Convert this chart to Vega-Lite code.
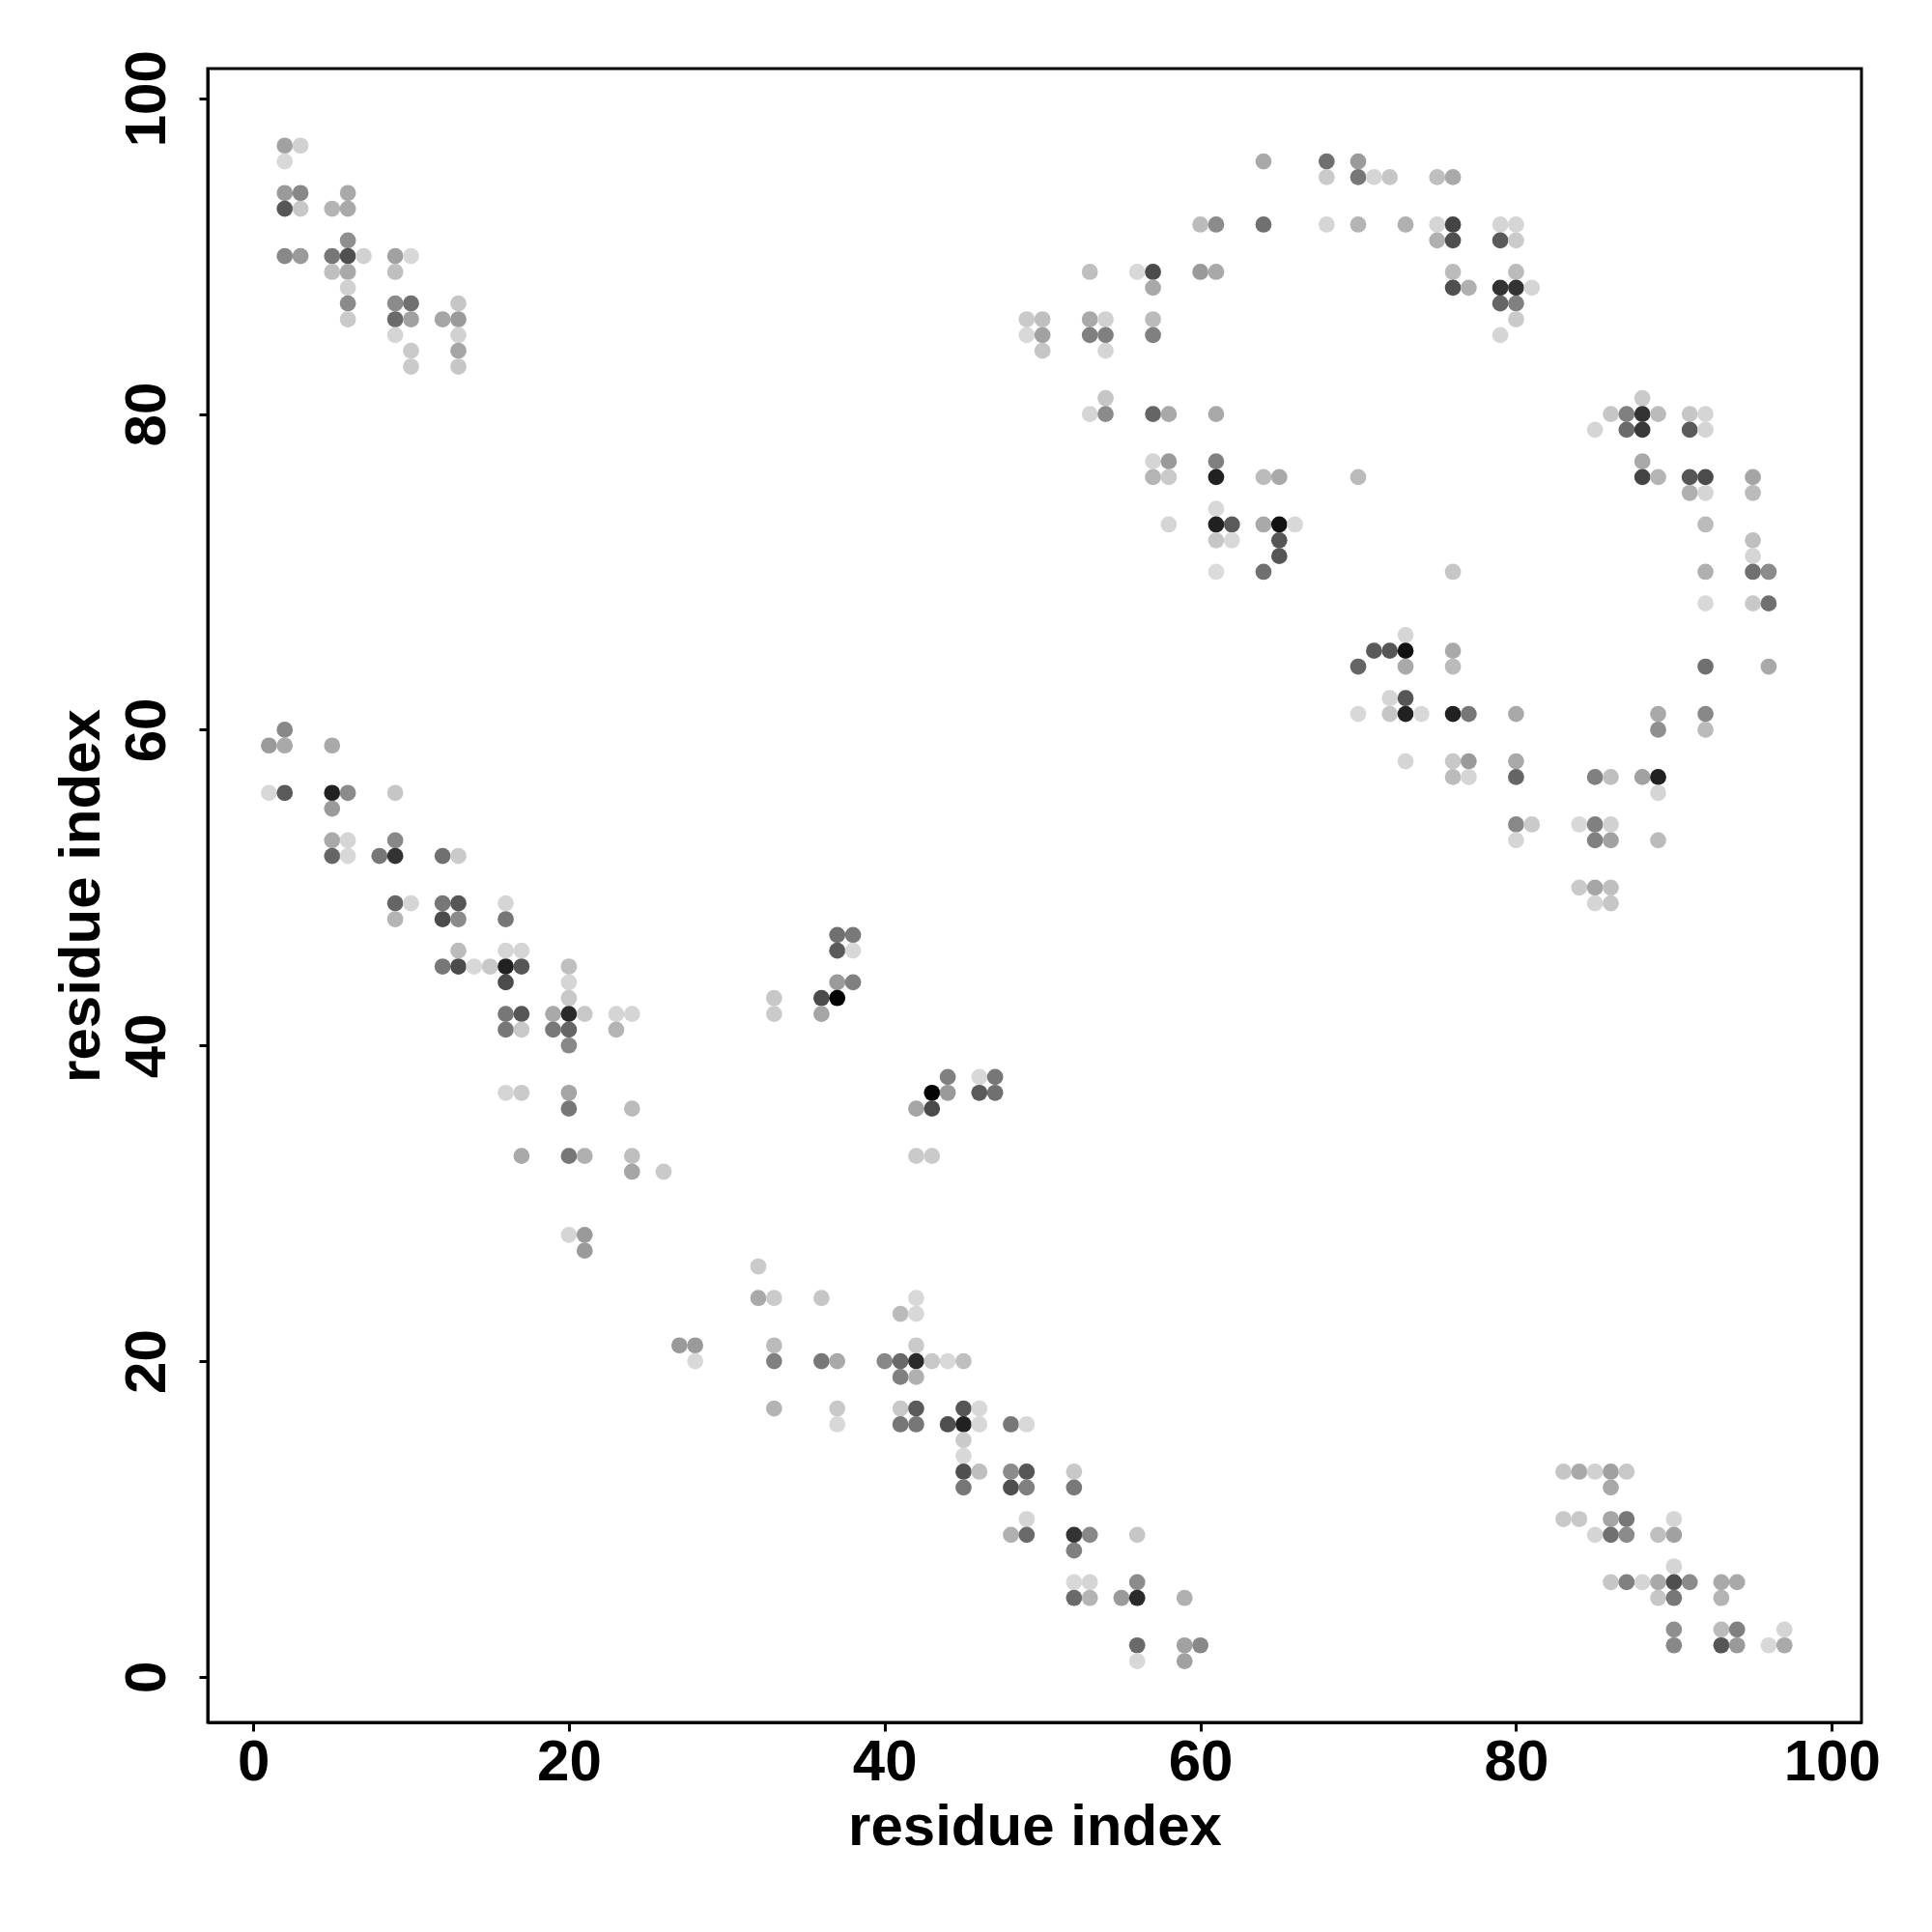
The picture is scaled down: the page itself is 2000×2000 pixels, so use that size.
{
  "$schema": "https://vega.github.io/schema/vega-lite/v6.json",
  "width": 1712,
  "height": 1712,
  "autosize": {"type": "none"},
  "padding": {"left": 215, "top": 71, "right": 73, "bottom": 217},
  "background": "white",
  "config": {
    "view": {"stroke": "black", "strokeWidth": 3},
    "font": "Liberation Sans"
  },
  "data": {"values": [
    {"i":2,"j":97,"p":0.27},{"i":3,"j":97,"p":0.05},{"i":2,"j":96,"p":0.02},{"i":2,"j":94,"p":0.3},{"i":3,"j":94,"p":0.38},{"i":2,"j":93,"p":0.61},{"i":3,"j":93,"p":0.09},{"i":5,"j":93,"p":0.18},{"i":6,"j":94,"p":0.23},{"i":6,"j":93,"p":0.23},{"i":2,"j":90,"p":0.38},{"i":3,"j":90,"p":0.3},{"i":6,"j":91,"p":0.35},{"i":5,"j":90,"p":0.46},{"i":6,"j":90,"p":0.64},{"i":7,"j":90,"p":0.05},{"i":5,"j":89,"p":0.13},{"i":6,"j":89,"p":0.23},{"i":6,"j":88,"p":0.05},{"i":6,"j":87,"p":0.37},{"i":6,"j":86,"p":0.08},{"i":9,"j":90,"p":0.27},{"i":10,"j":90,"p":0.02},{"i":9,"j":89,"p":0.13},{"i":9,"j":87,"p":0.37},{"i":10,"j":87,"p":0.49},{"i":9,"j":86,"p":0.52},{"i":10,"j":86,"p":0.27},{"i":9,"j":85,"p":0.03},{"i":10,"j":84,"p":0.08},{"i":10,"j":83,"p":0.08},{"i":13,"j":87,"p":0.1},{"i":12,"j":86,"p":0.25},{"i":13,"j":86,"p":0.3},{"i":13,"j":85,"p":0.05},{"i":13,"j":84,"p":0.25},{"i":13,"j":83,"p":0.1},
    {"i":2,"j":60,"p":0.38},{"i":1,"j":59,"p":0.3},{"i":2,"j":59,"p":0.23},{"i":5,"j":59,"p":0.23},{"i":1,"j":56,"p":0.02},{"i":2,"j":56,"p":0.59},{"i":5,"j":56,"p":0.85},{"i":6,"j":56,"p":0.37},{"i":5,"j":55,"p":0.3},{"i":9,"j":56,"p":0.1},{"i":5,"j":53,"p":0.23},{"i":6,"j":53,"p":0.03},{"i":5,"j":52,"p":0.54},{"i":6,"j":52,"p":0.02},{"i":8,"j":52,"p":0.46},{"i":9,"j":53,"p":0.38},{"i":9,"j":52,"p":0.77},{"i":12,"j":52,"p":0.49},{"i":13,"j":52,"p":0.08},{"i":9,"j":49,"p":0.54},{"i":10,"j":49,"p":0.03},{"i":9,"j":48,"p":0.18},{"i":12,"j":49,"p":0.46},{"i":13,"j":49,"p":0.61},{"i":12,"j":48,"p":0.66},{"i":13,"j":48,"p":0.37},{"i":16,"j":49,"p":0.03},{"i":16,"j":48,"p":0.46},{"i":13,"j":46,"p":0.15},{"i":12,"j":45,"p":0.46},{"i":13,"j":45,"p":0.66},{"i":14,"j":45,"p":0.02},{"i":15,"j":45,"p":0.09},{"i":16,"j":46,"p":0.03},{"i":17,"j":46,"p":0.03},{"i":16,"j":45,"p":0.85},{"i":17,"j":45,"p":0.61},{"i":16,"j":44,"p":0.66},
    {"i":20,"j":45,"p":0.13},{"i":20,"j":44,"p":0.03},{"i":20,"j":43,"p":0.09},{"i":16,"j":42,"p":0.46},{"i":17,"j":42,"p":0.61},{"i":16,"j":41,"p":0.46},{"i":17,"j":41,"p":0.09},{"i":19,"j":42,"p":0.23},{"i":20,"j":42,"p":0.81},{"i":21,"j":42,"p":0.09},{"i":19,"j":41,"p":0.45},{"i":20,"j":41,"p":0.54},{"i":20,"j":40,"p":0.38},{"i":23,"j":42,"p":0.03},{"i":24,"j":42,"p":0.03},{"i":23,"j":41,"p":0.18},{"i":16,"j":37,"p":0.03},{"i":17,"j":37,"p":0.08},{"i":20,"j":37,"p":0.25},{"i":20,"j":36,"p":0.46},{"i":24,"j":36,"p":0.15},{"i":17,"j":33,"p":0.23},{"i":20,"j":33,"p":0.46},{"i":21,"j":33,"p":0.2},{"i":24,"j":33,"p":0.13},{"i":24,"j":32,"p":0.25},{"i":26,"j":32,"p":0.08},{"i":20,"j":28,"p":0.03},{"i":21,"j":28,"p":0.3},{"i":21,"j":27,"p":0.3},
    {"i":37,"j":47,"p":0.49},{"i":38,"j":47,"p":0.45},{"i":37,"j":46,"p":0.59},{"i":38,"j":46,"p":0.02},{"i":37,"j":44,"p":0.3},{"i":38,"j":44,"p":0.42},{"i":36,"j":43,"p":0.66},{"i":37,"j":43,"p":0.98},{"i":36,"j":42,"p":0.25},{"i":33,"j":43,"p":0.09},{"i":33,"j":42,"p":0.08},{"i":44,"j":38,"p":0.42},{"i":43,"j":37,"p":0.98},{"i":44,"j":37,"p":0.3},{"i":42,"j":36,"p":0.25},{"i":43,"j":36,"p":0.66},{"i":46,"j":38,"p":0.02},{"i":47,"j":38,"p":0.46},{"i":46,"j":37,"p":0.59},{"i":47,"j":37,"p":0.49},{"i":42,"j":33,"p":0.08},{"i":43,"j":33,"p":0.08},
    {"i":32,"j":26,"p":0.08},{"i":32,"j":24,"p":0.23},{"i":33,"j":24,"p":0.08},{"i":36,"j":24,"p":0.1},{"i":42,"j":24,"p":0.02},{"i":41,"j":23,"p":0.15},{"i":42,"j":23,"p":0.02},{"i":27,"j":21,"p":0.3},{"i":28,"j":21,"p":0.3},{"i":28,"j":20,"p":0.02},{"i":33,"j":21,"p":0.15},{"i":33,"j":20,"p":0.42},{"i":36,"j":20,"p":0.46},{"i":37,"j":20,"p":0.23},{"i":42,"j":21,"p":0.08},{"i":40,"j":20,"p":0.38},{"i":41,"j":20,"p":0.52},{"i":42,"j":20,"p":0.81},{"i":43,"j":20,"p":0.09},{"i":44,"j":20,"p":0.02},{"i":45,"j":20,"p":0.13},{"i":41,"j":19,"p":0.42},{"i":42,"j":19,"p":0.2},{"i":33,"j":17,"p":0.18},{"i":37,"j":17,"p":0.09},{"i":37,"j":16,"p":0.02},{"i":41,"j":17,"p":0.09},{"i":42,"j":17,"p":0.59},{"i":41,"j":16,"p":0.46},{"i":42,"j":16,"p":0.46},{"i":45,"j":17,"p":0.61},{"i":46,"j":17,"p":0.02},{"i":44,"j":16,"p":0.64},{"i":45,"j":16,"p":0.85},{"i":46,"j":16,"p":0.02},{"i":45,"j":15,"p":0.08},{"i":45,"j":14,"p":0.02},{"i":45,"j":13,"p":0.64},{"i":46,"j":13,"p":0.13},{"i":45,"j":12,"p":0.46},{"i":48,"j":16,"p":0.46},{"i":49,"j":16,"p":0.02},{"i":48,"j":13,"p":0.37},{"i":49,"j":13,"p":0.61},{"i":48,"j":12,"p":0.64},{"i":49,"j":12,"p":0.42},{"i":49,"j":10,"p":0.03},
    {"i":52,"j":13,"p":0.09},{"i":52,"j":12,"p":0.45},{"i":48,"j":9,"p":0.2},{"i":49,"j":9,"p":0.52},{"i":52,"j":9,"p":0.77},{"i":53,"j":9,"p":0.38},{"i":52,"j":8,"p":0.42},{"i":56,"j":9,"p":0.1},{"i":52,"j":6,"p":0.02},{"i":53,"j":6,"p":0.03},{"i":52,"j":5,"p":0.52},{"i":53,"j":5,"p":0.18},{"i":56,"j":6,"p":0.37},{"i":55,"j":5,"p":0.3},{"i":56,"j":5,"p":0.81},{"i":59,"j":5,"p":0.2},{"i":56,"j":2,"p":0.52},{"i":56,"j":1,"p":0.02},{"i":59,"j":2,"p":0.27},{"i":60,"j":2,"p":0.38},{"i":59,"j":1,"p":0.27},
    {"i":64,"j":96,"p":0.23},{"i":68,"j":96,"p":0.49},{"i":68,"j":95,"p":0.08},{"i":70,"j":96,"p":0.3},{"i":70,"j":95,"p":0.46},{"i":71,"j":95,"p":0.03},{"i":60,"j":92,"p":0.15},{"i":61,"j":92,"p":0.37},{"i":64,"j":92,"p":0.49},{"i":68,"j":92,"p":0.03},{"i":70,"j":92,"p":0.18},{"i":53,"j":89,"p":0.13},{"i":56,"j":89,"p":0.02},{"i":57,"j":89,"p":0.66},{"i":57,"j":88,"p":0.23},{"i":60,"j":89,"p":0.3},{"i":61,"j":89,"p":0.23},{"i":49,"j":86,"p":0.08},{"i":50,"j":86,"p":0.13},{"i":49,"j":85,"p":0.02},{"i":50,"j":85,"p":0.27},{"i":50,"j":84,"p":0.1},{"i":53,"j":86,"p":0.23},{"i":54,"j":86,"p":0.05},{"i":53,"j":85,"p":0.42},{"i":54,"j":85,"p":0.42},{"i":54,"j":84,"p":0.03},{"i":57,"j":86,"p":0.15},{"i":57,"j":85,"p":0.42},{"i":54,"j":81,"p":0.1},{"i":53,"j":80,"p":0.03},{"i":54,"j":80,"p":0.37},{"i":57,"j":80,"p":0.54},{"i":58,"j":80,"p":0.23},{"i":61,"j":80,"p":0.23},{"i":57,"j":77,"p":0.03},{"i":58,"j":77,"p":0.3},{"i":57,"j":76,"p":0.18},{"i":58,"j":76,"p":0.08},{"i":61,"j":77,"p":0.42},{"i":61,"j":76,"p":0.85},{"i":64,"j":76,"p":0.15},{"i":65,"j":76,"p":0.23},{"i":70,"j":76,"p":0.15},{"i":58,"j":73,"p":0.03},{"i":61,"j":74,"p":0.02},{"i":61,"j":73,"p":0.85},{"i":62,"j":73,"p":0.59},{"i":61,"j":72,"p":0.1},{"i":62,"j":72,"p":0.02},{"i":64,"j":73,"p":0.23},{"i":65,"j":73,"p":0.92},{"i":66,"j":73,"p":0.02},{"i":65,"j":72,"p":0.61},{"i":65,"j":71,"p":0.61},{"i":64,"j":70,"p":0.49},{"i":61,"j":70,"p":0.0},
    {"i":72,"j":95,"p":0.1},{"i":75,"j":95,"p":0.13},{"i":76,"j":95,"p":0.23},{"i":73,"j":92,"p":0.2},{"i":75,"j":92,"p":0.03},{"i":76,"j":92,"p":0.69},{"i":75,"j":91,"p":0.2},{"i":76,"j":91,"p":0.64},{"i":79,"j":92,"p":0.03},{"i":80,"j":92,"p":0.03},{"i":79,"j":91,"p":0.59},{"i":80,"j":91,"p":0.08},{"i":76,"j":89,"p":0.15},{"i":76,"j":88,"p":0.64},{"i":77,"j":88,"p":0.2},{"i":80,"j":89,"p":0.15},{"i":79,"j":88,"p":0.77},{"i":80,"j":88,"p":0.77},{"i":81,"j":88,"p":0.03},{"i":79,"j":87,"p":0.54},{"i":80,"j":87,"p":0.42},{"i":80,"j":86,"p":0.08},{"i":79,"j":85,"p":0.03},{"i":76,"j":70,"p":0.1},
    {"i":73,"j":66,"p":0.03},{"i":71,"j":65,"p":0.59},{"i":72,"j":65,"p":0.61},{"i":73,"j":65,"p":0.92},{"i":73,"j":64,"p":0.23},{"i":70,"j":64,"p":0.54},{"i":76,"j":65,"p":0.23},{"i":76,"j":64,"p":0.15},{"i":72,"j":62,"p":0.03},{"i":73,"j":62,"p":0.61},{"i":70,"j":61,"p":0.02},{"i":72,"j":61,"p":0.1},{"i":73,"j":61,"p":0.85},{"i":74,"j":61,"p":0.02},{"i":76,"j":61,"p":0.85},{"i":77,"j":61,"p":0.46},{"i":80,"j":61,"p":0.23},{"i":73,"j":58,"p":0.03},{"i":76,"j":58,"p":0.09},{"i":77,"j":58,"p":0.3},{"i":76,"j":57,"p":0.15},{"i":77,"j":57,"p":0.03},{"i":80,"j":58,"p":0.23},{"i":80,"j":57,"p":0.54},{"i":85,"j":57,"p":0.42},{"i":86,"j":57,"p":0.13},{"i":88,"j":57,"p":0.27},{"i":89,"j":57,"p":0.85},{"i":80,"j":54,"p":0.38},{"i":81,"j":54,"p":0.08},{"i":80,"j":53,"p":0.03},{"i":84,"j":54,"p":0.02},{"i":85,"j":54,"p":0.42},{"i":86,"j":54,"p":0.05},{"i":85,"j":53,"p":0.42},{"i":86,"j":53,"p":0.27},{"i":84,"j":50,"p":0.08},{"i":85,"j":50,"p":0.25},{"i":86,"j":50,"p":0.13},{"i":85,"j":49,"p":0.03},{"i":86,"j":49,"p":0.1},{"i":89,"j":56,"p":0.03},{"i":89,"j":53,"p":0.15},
    {"i":88,"j":81,"p":0.08},{"i":86,"j":80,"p":0.1},{"i":87,"j":80,"p":0.42},{"i":88,"j":80,"p":0.77},{"i":89,"j":80,"p":0.15},{"i":85,"j":79,"p":0.03},{"i":87,"j":79,"p":0.52},{"i":88,"j":79,"p":0.74},{"i":91,"j":80,"p":0.1},{"i":92,"j":80,"p":0.03},{"i":91,"j":79,"p":0.59},{"i":92,"j":79,"p":0.03},{"i":88,"j":77,"p":0.23},{"i":88,"j":76,"p":0.69},{"i":89,"j":76,"p":0.18},{"i":91,"j":76,"p":0.61},{"i":92,"j":76,"p":0.66},{"i":91,"j":75,"p":0.2},{"i":92,"j":75,"p":0.03},{"i":95,"j":76,"p":0.25},{"i":95,"j":75,"p":0.15},{"i":92,"j":73,"p":0.15},{"i":95,"j":72,"p":0.13},{"i":95,"j":71,"p":0.03},{"i":95,"j":70,"p":0.49},{"i":96,"j":70,"p":0.37},{"i":92,"j":70,"p":0.2},{"i":92,"j":68,"p":0.02},{"i":95,"j":68,"p":0.09},{"i":96,"j":68,"p":0.49},{"i":92,"j":64,"p":0.49},{"i":96,"j":64,"p":0.23},{"i":89,"j":61,"p":0.23},{"i":89,"j":60,"p":0.35},{"i":92,"j":61,"p":0.38},{"i":92,"j":60,"p":0.15},
    {"i":83,"j":13,"p":0.1},{"i":84,"j":13,"p":0.23},{"i":85,"j":13,"p":0.05},{"i":86,"j":13,"p":0.27},{"i":87,"j":13,"p":0.09},{"i":86,"j":12,"p":0.23},{"i":83,"j":10,"p":0.09},{"i":84,"j":10,"p":0.09},{"i":85,"j":9,"p":0.03},{"i":86,"j":10,"p":0.25},{"i":87,"j":10,"p":0.46},{"i":86,"j":9,"p":0.49},{"i":87,"j":9,"p":0.37},{"i":90,"j":10,"p":0.03},{"i":89,"j":9,"p":0.13},{"i":90,"j":9,"p":0.27},{"i":90,"j":7,"p":0.03},{"i":86,"j":6,"p":0.1},{"i":87,"j":6,"p":0.42},{"i":88,"j":6,"p":0.03},{"i":89,"j":6,"p":0.23},{"i":90,"j":6,"p":0.64},{"i":91,"j":6,"p":0.37},{"i":89,"j":5,"p":0.1},{"i":90,"j":5,"p":0.46},{"i":93,"j":6,"p":0.23},{"i":94,"j":6,"p":0.23},{"i":93,"j":5,"p":0.18},{"i":90,"j":3,"p":0.35},{"i":90,"j":2,"p":0.38},{"i":93,"j":3,"p":0.15},{"i":94,"j":3,"p":0.42},{"i":93,"j":2,"p":0.61},{"i":94,"j":2,"p":0.3},{"i":97,"j":3,"p":0.03},{"i":96,"j":2,"p":0.02},{"i":97,"j":2,"p":0.23}
  ]},
  "mark": {"type": "circle", "size": 280, "opacity": 1},
  "encoding": {
    "x": {
      "field": "i", "type": "quantitative",
      "scale": {"domain": [-2.88, 101.88], "nice": false, "zero": false},
      "axis": {
        "title": "residue index", "values": [0, 20, 40, 60, 80, 100],
        "grid": false, "domainColor": "black", "domainWidth": 3,
        "tickColor": "black", "tickWidth": 3, "tickSize": 9,
        "labelFont": "Liberation Sans", "labelFontSize": 60, "labelFontWeight": "bold", "labelColor": "black",
        "labelPadding": 3, "labelBaseline": "top", "labelFlush": false, "labelOverlap": false,
        "titleFont": "Liberation Sans", "titleFontSize": 60, "titleFontWeight": "bold", "titleColor": "black",
        "titleBaseline": "alphabetic", "titleY": 126, "titleX": 856, "titleAlign": "center"
      }
    },
    "y": {
      "field": "j", "type": "quantitative",
      "scale": {"domain": [-2.88, 101.88], "nice": false, "zero": false},
      "axis": {
        "title": "residue index", "values": [0, 20, 40, 60, 80, 100],
        "grid": false, "domainColor": "black", "domainWidth": 3,
        "tickColor": "black", "tickWidth": 3, "tickSize": 9,
        "labelFont": "Liberation Sans", "labelFontSize": 60, "labelFontWeight": "bold", "labelColor": "black",
        "labelAngle": 270, "labelAlign": "center", "labelBaseline": "alphabetic", "labelPadding": 36,
        "labelFlush": false, "labelOverlap": false,
        "titleFont": "Liberation Sans", "titleFontSize": 60, "titleFontWeight": "bold", "titleColor": "black",
        "titleAngle": 270, "titleBaseline": "alphabetic", "titleAlign": "center", "titleX": -113, "titleY": 856
      }
    },
    "color": {
      "field": "p", "type": "quantitative",
      "scale": {"domain": [0, 1], "range": ["#dcdcdc", "#000000"], "interpolate": "rgb"},
      "legend": null
    }
  }
}
